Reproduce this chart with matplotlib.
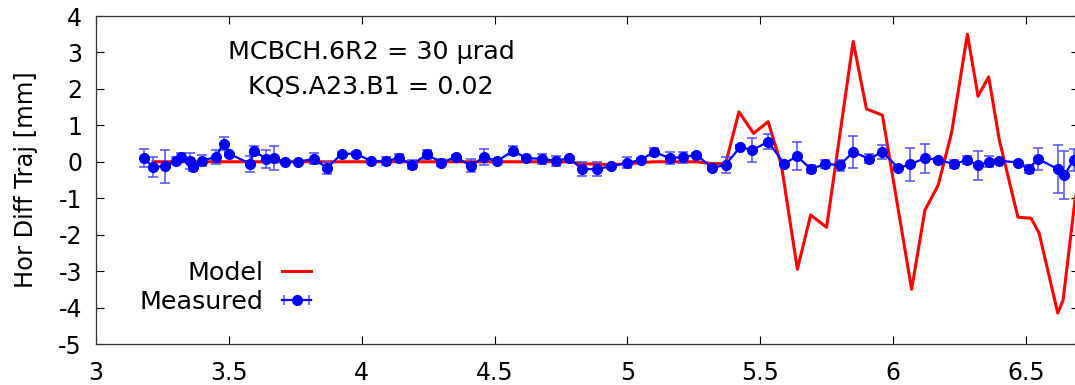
import numpy as np
import matplotlib
matplotlib.use("Agg")
import matplotlib.pyplot as plt

# measured BPM differences: position, value, error
meas_x = [3.18, 3.215, 3.26, 3.30, 3.32, 3.355, 3.365, 3.40, 3.45, 3.48,
          3.50, 3.58, 3.595, 3.64, 3.67, 3.71, 3.76, 3.82, 3.87, 3.925,
          3.98, 4.035, 4.09, 4.14, 4.19, 4.245, 4.30, 4.355, 4.41, 4.46,
          4.51, 4.57, 4.62, 4.68, 4.73, 4.78, 4.83, 4.885, 4.94, 5.00,
          5.05, 5.10, 5.16, 5.21, 5.26, 5.32, 5.37, 5.425, 5.47, 5.53,
          5.59, 5.64, 5.69, 5.745, 5.80, 5.85, 5.91, 5.96, 6.02, 6.065,
          6.12, 6.17, 6.23, 6.28, 6.32, 6.36, 6.40, 6.47, 6.51, 6.545,
          6.62, 6.645, 6.68]
meas_y = [0.10, -0.14, -0.12, 0.03, 0.13, 0.03, -0.13, 0.03, 0.13, 0.50,
          0.22, -0.05, 0.30, 0.08, 0.10, 0.00, 0.00, 0.08, -0.17, 0.22,
          0.22, 0.02, 0.02, 0.10, -0.08, 0.20, -0.02, 0.13, -0.11, 0.13,
          0.02, 0.30, 0.10, 0.08, 0.02, 0.10, -0.20, -0.20, -0.12, -0.03,
          0.05, 0.27, 0.10, 0.13, 0.19, -0.17, -0.08, 0.41, 0.32, 0.55,
          -0.05, 0.15, -0.20, -0.06, -0.09, 0.27, 0.08, 0.27, -0.17, -0.07,
          0.10, 0.05, -0.06, 0.05, -0.10, 0.00, 0.03, -0.02, -0.20, 0.08,
          -0.20, -0.36, 0.05]
meas_err = [0.25, 0.27, 0.45, 0.10, 0.12, 0.22, 0.12, 0.15, 0.20, 0.18,
            0.06, 0.22, 0.12, 0.25, 0.33, 0.03, 0.03, 0.15, 0.17, 0.06,
            0.06, 0.04, 0.12, 0.10, 0.12, 0.12, 0.10, 0.05, 0.18, 0.22,
            0.05, 0.12, 0.05, 0.14, 0.14, 0.04, 0.20, 0.20, 0.06, 0.15,
            0.05, 0.12, 0.16, 0.15, 0.05, 0.06, 0.22, 0.05, 0.33, 0.20,
            0.05, 0.38, 0.10, 0.10, 0.15, 0.45, 0.12, 0.20, 0.05, 0.45,
            0.40, 0.05, 0.10, 0.12, 0.40, 0.15, 0.05, 0.03, 0.10, 0.30,
            0.65, 0.65, 0.30]

# model prediction
model_x = [3.215, 3.50, 4.00, 4.50, 4.78, 4.83, 4.94, 5.00, 5.10, 5.26,
           5.32, 5.37, 5.42, 5.475, 5.53, 5.58, 5.64, 5.69, 5.75, 5.85,
           5.90, 5.96, 6.07, 6.12, 6.17, 6.22, 6.28, 6.32, 6.36, 6.40,
           6.47, 6.52, 6.55, 6.62, 6.64, 6.685, 6.72]
model_y = [0.0, 0.0, 0.0, 0.0, 0.0, -0.05, -0.08, -0.05, 0.0, 0.0,
           -0.05, -0.05, 1.37, 0.78, 1.10, -0.10, -2.95, -1.46, -1.80, 3.30,
           1.45, 1.28, -3.50, -1.33, -0.64, 0.78, 3.50, 1.80, 2.33, 0.60,
           -1.52, -1.55, -1.96, -4.15, -3.80, -1.05, 0.2]

labels_text = ["MCBCH.6R2 = 30 \u03bcrad", "KQS.A23.B1 = 0.02"]

plt.rcParams["font.family"] = ["DejaVu Sans"]
plt.rcParams["font.size"] = 17
plt.rcParams["axes.unicode_minus"] = False

fig = plt.figure(figsize=(10.75, 3.85), dpi=100)
ax = fig.add_axes([96 / 1075, 41 / 385, 983 / 1075, 328 / 385])

ax.plot(model_x, model_y, color="#ff0000", lw=2.2, label="Model", zorder=2)
ax.errorbar(meas_x, meas_y, yerr=meas_err, fmt="-o", color="#0000ff",
            ecolor="#4d4dff", elinewidth=1.1, capsize=3.4, capthick=1.1,
            lw=1.6, ms=7, zorder=3)
# legend proxy with horizontal error bar, as in the original
proxy = ax.errorbar([np.nan], [np.nan], xerr=[1], fmt="-o", color="#0000ff",
                    ecolor="#4d4dff", elinewidth=1.1, capsize=3.4,
                    capthick=1.1, lw=1.6, ms=7, label="Measured")

ax.text(4.035, 3.0, labels_text[0], ha="center", va="center", fontsize=18.3)
ax.text(4.035, 2.04, labels_text[1], ha="center", va="center", fontsize=18.3)

ax.set_xlim(3, 6.7)
ax.set_ylim(-5, 4)
ax.set_xticks(np.arange(3, 6.51, 0.5))
ax.set_xticklabels(["3", "3.5", "4", "4.5", "5", "5.5", "6", "6.5"])
ax.set_yticks(np.arange(-5, 4.1, 1))
ax.tick_params(direction="in", top=True, right=True, length=6, width=0.8)
ax.tick_params(axis="x", pad=12)
ax.tick_params(axis="y", pad=10)
ax.set_ylabel("Hor Diff Traj [mm]", fontsize=17.4, labelpad=15)
for s in ax.spines.values():
    s.set_linewidth(0.9)
    s.set_color("#333333")

ax.legend(markerfirst=False, frameon=False, loc="center right",
          bbox_to_anchor=(0.219, 0.172), borderpad=0, borderaxespad=0,
          handlelength=1.14, handletextpad=0.75, labelspacing=0.22,
          fontsize=18.3)

fig.savefig("out.png", dpi=100)
